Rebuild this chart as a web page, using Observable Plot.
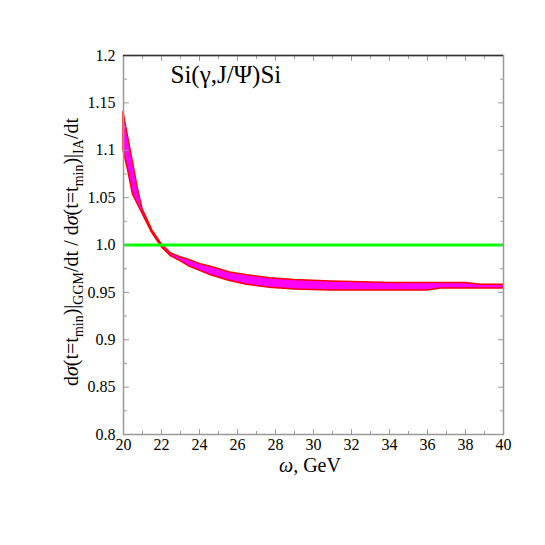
<!DOCTYPE html>
<html><head><meta charset="utf-8">
<script src="https://cdn.jsdelivr.net/npm/d3@7"></script>
<script src="https://cdn.jsdelivr.net/npm/@observablehq/plot@0.6"></script>
<style>body{margin:0;background:#fff} #chart{width:545px;height:545px}
#chart svg, #chart svg text{font-family:"Liberation Serif","Times New Roman",serif !important}</style>
</head><body><div id="chart"></div>
<script>
// ---- data ----
const omega = [20, 20.25, 20.5, 20.75, 21, 21.5, 22, 22.5, 23, 23.5, 24, 24.6, 25.6, 26.5, 27.7, 29, 30.9, 32, 34, 36, 36.7, 38, 38.8, 40];
const upper = [1.140, 1.113, 1.087, 1.060, 1.038, 1.016, 1.001, 0.991, 0.987, 0.984, 0.980, 0.977, 0.971, 0.968, 0.965, 0.963, 0.9615, 0.961, 0.960, 0.960, 0.960, 0.960, 0.958, 0.958];
const lower = [1.100, 1.078, 1.053, 1.043, 1.033, 1.013, 0.998, 0.988, 0.983, 0.977, 0.973, 0.968, 0.962, 0.958, 0.955, 0.953, 0.952, 0.952, 0.952, 0.952, 0.954, 0.954, 0.954, 0.954];
const refLevel = [1.0];
const xMajor = [20, 22, 24, 26, 28, 30, 32, 34, 36, 38, 40];
const xMinor = [21, 23, 25, 27, 29, 31, 33, 35, 37, 39];
const xTickLabels = ["20", "22", "24", "26", "28", "30", "32", "34", "36", "38", "40"];
const yMajor = [0.8, 0.85, 0.9, 0.95, 1.0, 1.05, 1.1, 1.15, 1.2];
const yMinor = [0.825, 0.875, 0.925, 0.975, 1.025, 1.075, 1.125, 1.175];
const yTickLabels = ["0.8", "0.85", "0.9", "0.95", "1.0", "1.05", "1.1", "1.15", "1.2"];
const title = "Si(γ,J/Ψ)Si";

// ---- chart ----
const band = omega.map((w, i) => ({w, lo: lower[i], hi: upper[i]}));
const font = "Liberation Serif, Times New Roman, serif";
const tickShape = {draw(ctx, l) { ctx.moveTo(0, 0); ctx.lineTo(0, -l); }};
const xLo = xMajor[0], xHi = xMajor[xMajor.length - 1];
const yLo = yMajor[0], yHi = yMajor[yMajor.length - 1];
const tk = (data, pos, len, rot) => Plot.vector(data, {
  ...(pos.x !== undefined ? {x: pos.x, y: d => d} : {x: d => d, y: pos.y}),
  length: len, rotate: rot, anchor: "start", shape: tickShape, stroke: "#999", strokeWidth: 1
});

const plot = Plot.plot({
  width: 545, height: 545,
  marginLeft: 123, marginRight: 42, marginTop: 55, marginBottom: 111,
  style: {fontFamily: font, fontSize: "16px", color: "#000", background: "#fff"},
  x: {domain: [xLo, xHi]},
  y: {domain: [yLo, yHi]},
  marks: [
    Plot.areaY(band, {x: "w", y1: "lo", y2: "hi", fill: "#ff00ff", stroke: "#ff0000", strokeWidth: 1.5}),
    Plot.ruleY(refLevel, {stroke: "#00ff00", strokeWidth: 3}),
    tk(xMajor, {y: yLo}, 5, 0), tk(xMinor, {y: yLo}, 3, 0),
    tk(xMajor, {y: yHi}, 5, 180), tk(xMinor, {y: yHi}, 3, 180),
    tk(yMajor, {x: xLo}, 5, 90), tk(yMinor, {x: xLo}, 3, 90),
    tk(yMajor, {x: xHi}, 5, 270), tk(yMinor, {x: xHi}, 3, 270),
    Plot.frame({stroke: "#999", strokeWidth: 1.5}),
    Plot.ruleY([yHi], {stroke: "#333", strokeWidth: 1.5}),
    Plot.axisX({ticks: xMajor, tickSize: 0, tickPadding: 4, tickFormat: (d, i) => xTickLabels[i], label: null, fontSize: 16, fontFamily: font}),
    Plot.axisY({ticks: yMajor, tickSize: 0, tickPadding: 8, tickFormat: (d, i) => yTickLabels[i], label: null, fontSize: 16, fontFamily: font}),
    Plot.text([title], {frameAnchor: "top-left", dx: 47, dy: 27, textAnchor: "start", lineAnchor: "bottom", fontSize: 25, fontFamily: font})
  ]
});
document.getElementById("chart").appendChild(plot);

// ---- axis titles with italic/subscript parts ----
const svg = d3.select(plot);
const xt = svg.append("text").attr("x", 310).attr("y", 472).attr("text-anchor", "middle")
  .attr("font-family", font).attr("font-size", 20).attr("fill", "#000");
xt.append("tspan").attr("font-style", "italic").text("ω");
xt.append("tspan").text(", GeV");

const yt = svg.append("text").attr("transform", "translate(78,252) rotate(-90)").attr("text-anchor", "middle")
  .attr("font-family", font).attr("font-size", 20).attr("fill", "#000");
const parts = [["d"], ["σ", "i"], ["(t=t"], ["min", "s"], [")|"], ["GGM", "s"], ["/dt / d"], ["σ", "i"], ["(t=t"], ["min", "s"], [")|"], ["IA", "s"], ["/dt"]];
parts.forEach(([t, k], i) => {
  const prevSub = i > 0 && parts[i - 1][1] === "s";
  const s = yt.append("tspan").text(t).attr("dy", k === "s" ? 5 : (prevSub ? -5 : 0));
  if (k === "i") s.attr("font-style", "italic");
  if (k === "s") s.attr("font-size", 14);
});
</script>
</body></html>
